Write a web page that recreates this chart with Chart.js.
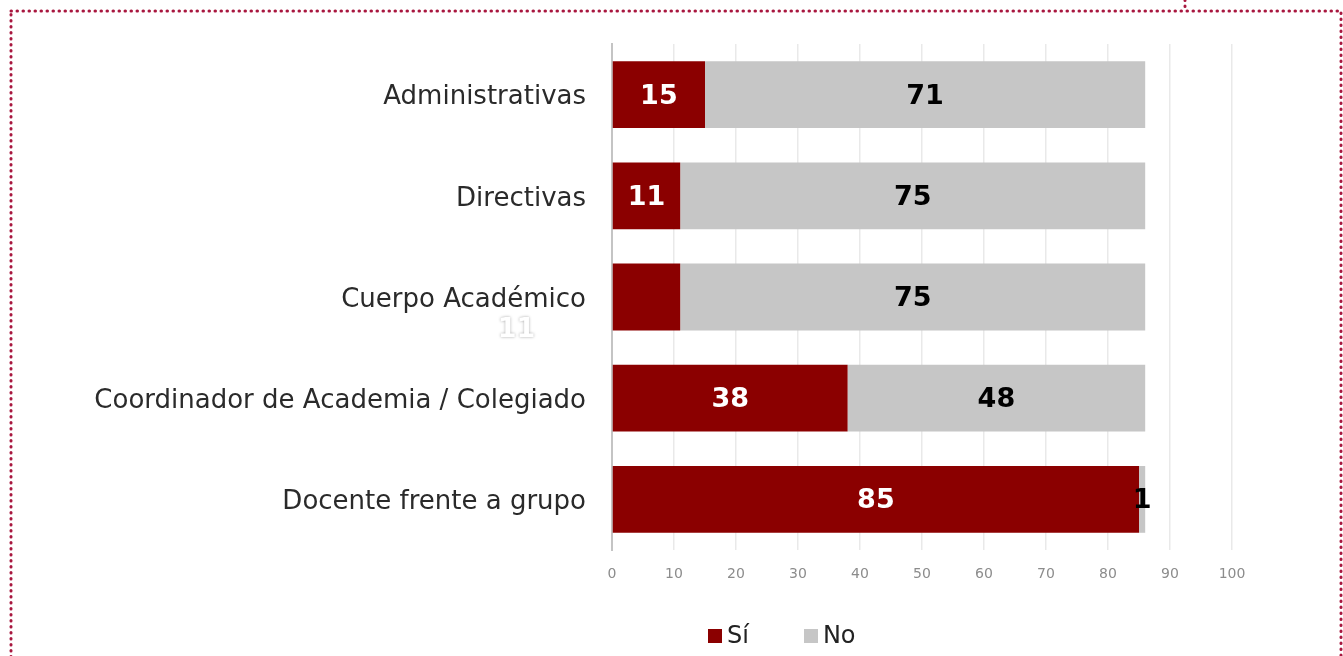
<!DOCTYPE html>
<html>
<head>
<meta charset="utf-8">
<script src="https://cdn.jsdelivr.net/npm/chart.js@4"></script>
<style>
  html, body { margin: 0; padding: 0; background: #fff; }
  body { width: 1343px; height: 656px; position: relative; overflow: hidden; font-family: "DejaVu Sans", sans-serif; }
  #marco { position: absolute; left: 0; top: 0; }
  #wrap { position: absolute; left: 0; top: 0; width: 1343px; height: 656px; }
  #leyenda { position: absolute; top: 621px; left: 708px; display: flex; align-items: center; font-size: 24px; color: #222; }
  #leyenda span.box { display: inline-block; width: 14px; height: 14px; margin-right: 5px; margin-top: 2px; }
  #leyenda .item { display: flex; align-items: center; margin-right: 55px; }
</style>
</head>
<body>
<svg id="marco" width="1343" height="656">
  <rect x="11" y="11" width="1330" height="700" fill="none" stroke="#a8173f" stroke-width="3" stroke-dasharray="0.5 5.5" stroke-linecap="round"/>
  <line x1="1185" y1="0" x2="1185" y2="11" stroke="#a8173f" stroke-width="3" stroke-dasharray="0.5 5.5" stroke-linecap="round"/>
</svg>
<div id="wrap"><canvas id="grafica"></canvas></div>
<div id="leyenda">
  <div class="item"><span class="box" style="background:#8b0000"></span>Sí</div>
  <div class="item"><span class="box" style="background:#c6c6c6"></span>No</div>
</div>
<script>
// Datos de la grafica
var categorias = ['Administrativas', 'Directivas', 'Cuerpo Académico', 'Coordinador de Academia / Colegiado', 'Docente frente a grupo'];
var valoresSi = [15, 11, 11, 38, 85];
var valoresNo = [71, 75, 75, 48, 1];
var ticksX = [0, 10, 20, 30, 40, 50, 60, 70, 80, 90, 100];

// etiqueta desplazada (Cuerpo Académico, Sí) como en la imagen original
var desplazamientos = { '0-2': { dx: -130, dy: 31 } };

var etiquetas = {
    id: 'etiquetas',
    afterDatasetsDraw: function(chart) {
        var ctx = chart.ctx;
        ctx.save();
        ctx.font = 'bold 27px "DejaVu Sans", sans-serif';
        ctx.textAlign = 'center';
        ctx.textBaseline = 'middle';
        chart.data.datasets.forEach(function(ds, i) {
            var meta = chart.getDatasetMeta(i);
            meta.data.forEach(function(bar, j) {
                var v = ds.data[j];
                var x = (bar.x + bar.base) / 2;
                var y = bar.y;
                var off = desplazamientos[i + '-' + j];
                if (off) {
                    x += off.dx; y += off.dy;
                    ctx.shadowColor = 'rgba(0,0,0,0.35)';
                    ctx.shadowBlur = 3;
                    ctx.fillStyle = '#ffffff';
                } else {
                    ctx.shadowBlur = 0;
                    ctx.fillStyle = i === 0 ? '#ffffff' : '#000000';
                }
                ctx.fillText(String(v), x, y + 2);
            });
        });
        ctx.restore();
    }
};

document.addEventListener('DOMContentLoaded', function() {
    var canvas = document.getElementById('grafica');

    new Chart(canvas, {
        type: 'bar',
        data: {
            labels: categorias,
            datasets: [{
                label: 'Sí',
                data: valoresSi,
                backgroundColor: '#8b0000',
                barPercentage: 0.66,
                categoryPercentage: 1.0
            }, {
                label: 'No',
                data: valoresNo,
                backgroundColor: '#c6c6c6',
                barPercentage: 0.66,
                categoryPercentage: 1.0
            }]
        },
        options: {
            indexAxis: 'y',
            responsive: true,
            maintainAspectRatio: false,
            animation: false,
            layout: { padding: { top: 44, right: 111, left: 0, bottom: 0 } },
            plugins: { legend: { display: false }, tooltip: { enabled: false } },
            scales: {
                x: {
                    stacked: true,
                    min: 0,
                    max: 100,
                    afterBuildTicks: function(scale) {
                        scale.ticks = ticksX.map(function(v) { return { value: v }; });
                    },
                    afterFit: function(scale) { scale.height = 106; },
                    ticks: { font: { size: 14, family: '"DejaVu Sans", sans-serif' }, color: '#8c8c8c', padding: 16 },
                    grid: { color: '#e9e9e9', lineWidth: 1.5, drawTicks: false },
                    border: { display: false }
                },
                y: {
                    stacked: true,
                    afterFit: function(scale) { scale.width = 612; },
                    ticks: { font: { size: 26, family: '"DejaVu Sans", sans-serif' }, color: '#2a2a2a', padding: 18, labelOffset: 3 },
                    grid: { display: false },
                    border: { display: true, color: '#c4c4c4', width: 2 }
                }
            }
        },
        plugins: [etiquetas]
    });
});
</script>
</body>
</html>
